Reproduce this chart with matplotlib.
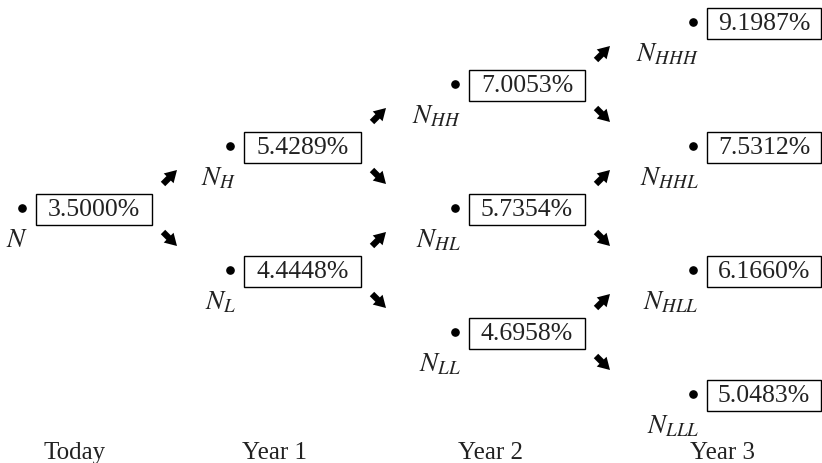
import matplotlib
matplotlib.use("Agg")
import matplotlib.pyplot as plt
from matplotlib.patches import Rectangle, FancyArrowPatch

# ---- data ----
periods = ["Today", "Year 1", "Year 2", "Year 3"]
rates = [
    [3.5000],
    [5.4289, 4.4448],
    [7.0053, 5.7354, 4.6958],
    [9.1987, 7.5312, 6.1660, 5.0483],
]
node_subscripts = [
    [""],
    ["H", "L"],
    ["HH", "HL", "LL"],
    ["HHH", "HHL", "HLL", "LLL"],
]

# ---- layout (pixel units of the canvas) ----
W, H = 822, 464
dot_x = [22, 230, 455, 693]
box_w = [116, 117, 116, 114]
period_x = [75, 274, 490, 722]
y_mid = 209
step = 62
box_h = 31
serif = ["Liberation Serif", "DejaVu Serif"]
plt.rcParams["mathtext.fontset"] = "stix"

fig = plt.figure(figsize=(W / 100, H / 100), dpi=100)
ax = fig.add_axes([0, 0, 1, 1])
ax.set_xlim(0, W)
ax.set_ylim(H, 0)
ax.axis("off")


def arrow(ax, xc, yc, up):
    d = 7
    if up:
        p0, p1 = (xc - d, yc + d), (xc + d, yc - d)
    else:
        p0, p1 = (xc - d, yc - d), (xc + d, yc + d)
    ax.add_patch(FancyArrowPatch(p0, p1,
                                 arrowstyle="simple,head_length=0.85,head_width=1.0,tail_width=0.45",
                                 mutation_scale=10, color="black", lw=0,
                                 shrinkA=0, shrinkB=0))


for i, col in enumerate(rates):
    for j, r in enumerate(col):
        level = i - 2 * j
        y = y_mid - step * level
        x = dot_x[i]
        ax.plot([x], [y], "o", color="black", markersize=5.2)
        bx = x + 14
        ax.add_patch(Rectangle((bx, y - box_h / 2 + 1), box_w[i], box_h,
                               fill=False, ec="black", lw=1.0))
        ax.text(bx + box_w[i] / 2, y + 1, f"{r:.4f}%", ha="center", va="center",
                fontsize=18.5, family=serif, color="#222222")
        sub = node_subscripts[i][j]
        lab = "$N$" if sub == "" else "$N_{%s}$" % sub
        ax.text(x + 6, y + 38, lab, ha="right", va="baseline", fontsize=19.5,
                color="#222222")
        if i < len(rates) - 1:
            ax_x = bx + box_w[i] + 18
            arrow(ax, ax_x, y - 31, True)
            arrow(ax, ax_x, y + 31, False)

for i, p in enumerate(periods):
    ax.text(period_x[i], 459, p, ha="center", va="baseline", fontsize=18,
            family=serif, color="#222222")

fig.savefig("out.png", dpi=100)
